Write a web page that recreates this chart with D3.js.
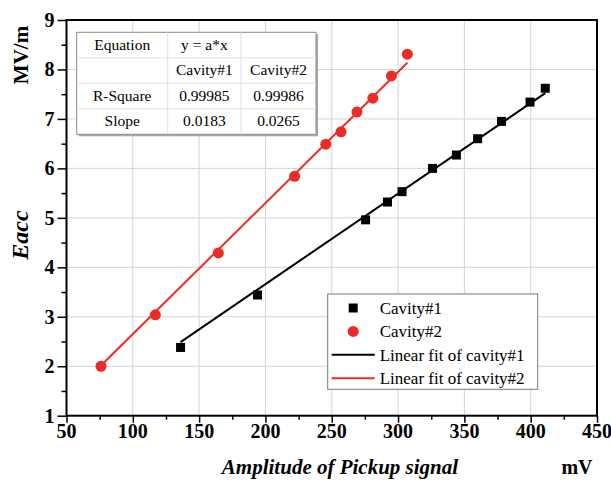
<!DOCTYPE html>
<html>
<head>
<meta charset="utf-8">
<script src="https://cdn.jsdelivr.net/npm/d3@7"></script>
<style>
  body { margin: 0; background: #fff; }
  svg text { font-family: "Liberation Serif", "Times New Roman", serif; }
</style>
</head>
<body>
<div id="chart"></div>
<script>
// cavity #1 (black squares)
const cav1X = [136, 194, 275.5, 292, 303, 326, 344, 360, 378, 399.5, 411];
const cav1Y = [2.38, 3.44, 4.96, 5.32, 5.53, 6.0, 6.27, 6.6, 6.95, 7.34, 7.62];
// cavity #2 (red circles)
const cav2X = [76, 117, 164.5, 222, 245.5, 257, 269, 281, 295, 307];
const cav2Y = [2.0, 3.04, 4.29, 5.84, 6.49, 6.74, 7.14, 7.42, 7.87, 8.31];
const slopes = [0.0183, 0.0265];
const rSquare = ['0.99985', '0.99986'];

const xTicks = [50, 100, 150, 200, 250, 300, 350, 400, 450];
const yTicks = [1, 2, 3, 4, 5, 6, 7, 8, 9];

const tableRows = [
    ['Equation', 'y = a*x', ''],
    ['', 'Cavity#1', 'Cavity#2'],
    ['R-Square', rSquare[0], rSquare[1]],
    ['Slope', String(slopes[0]), String(slopes[1])]
];
const legendItems = ['Cavity#1', 'Cavity#2', 'Linear fit of cavity#1', 'Linear fit of cavity#2'];

const width = 611, height = 485;
const margin = {top: 20, left: 66.5, right: 14, bottom: 69.3};
const red = '#ec2b27';
const serif = '"Liberation Serif", "Times New Roman", serif';

const svg = d3.select('#chart').append('svg')
    .attr('width', width)
    .attr('height', height);

svg.append('rect').attr('width', width).attr('height', height).attr('fill', '#fff');

const x = d3.scaleLinear().domain([50, 450]).range([margin.left, width - margin.right]);
const y = d3.scaleLinear().domain([1, 9]).range([height - margin.bottom, margin.top]);

// grid
svg.append('g').selectAll('line')
    .data(xTicks.slice(1, -1))
    .join('line')
    .attr('x1', d => x(d)).attr('x2', d => x(d))
    .attr('y1', y(1)).attr('y2', y(9))
    .attr('stroke', '#d4d4d4').attr('stroke-width', 1);
svg.append('g').selectAll('line')
    .data(yTicks.slice(1, -1))
    .join('line')
    .attr('y1', d => y(d)).attr('y2', d => y(d))
    .attr('x1', x(50)).attr('x2', x(450))
    .attr('stroke', '#d4d4d4').attr('stroke-width', 1);

// axes
const xAxis = svg.append('g')
    .attr('transform', `translate(0,${y(1)})`)
    .call(d3.axisBottom(x).tickValues(d3.range(50, 451, 25)).tickSize(5).tickFormat(''));
xAxis.selectAll('.tick line')
    .attr('stroke-width', 1.5)
    .attr('y2', d => d % 50 === 0 ? 7 : 4);
xAxis.select('.domain').remove();

const yAxis = svg.append('g')
    .attr('transform', `translate(${x(50)},0)`)
    .call(d3.axisLeft(y).tickValues(d3.range(1, 9.01, 0.5)).tickFormat(''));
yAxis.selectAll('.tick line')
    .attr('stroke-width', 1.5)
    .attr('x2', d => d % 1 === 0 ? -9 : -5);
yAxis.select('.domain').remove();

svg.append('g').selectAll('text')
    .data(xTicks)
    .join('text')
    .attr('x', d => x(d))
    .attr('y', y(1) + 22)
    .attr('text-anchor', 'middle')
    .style('font-family', serif)
    .style('font-size', '20px')
    .style('font-weight', 'bold')
    .text(d => d);

svg.append('g').selectAll('text')
    .data(yTicks)
    .join('text')
    .attr('x', x(50) - 12)
    .attr('y', d => y(d) + 7)
    .attr('text-anchor', 'end')
    .style('font-family', serif)
    .style('font-size', '20px')
    .style('font-weight', 'bold')
    .text(d => d);

// frame
svg.append('rect')
    .attr('x', x(50)).attr('y', y(9))
    .attr('width', x(450) - x(50)).attr('height', y(1) - y(9))
    .attr('fill', 'none').attr('stroke', '#000').attr('stroke-width', 2);

// axis titles
svg.append('text')
    .attr('transform', `translate(${28},${235}) rotate(-90)`)
    .attr('text-anchor', 'middle')
    .style('font-family', serif)
    .style('font-size', '24px')
    .style('font-weight', 'bold')
    .style('font-style', 'italic')
    .text('Eacc');
svg.append('text')
    .attr('transform', `translate(${28},${55}) rotate(-90)`)
    .attr('text-anchor', 'middle')
    .style('font-family', serif)
    .style('font-size', '21px')
    .style('font-weight', 'bold')
    .text('MV/m');
svg.append('text')
    .attr('x', 340).attr('y', 474)
    .attr('text-anchor', 'middle')
    .style('font-family', serif)
    .style('font-size', '21px')
    .style('font-weight', 'bold')
    .style('font-style', 'italic')
    .text('Amplitude of Pickup signal');
svg.append('text')
    .attr('x', 577).attr('y', 474)
    .attr('text-anchor', 'middle')
    .style('font-family', serif)
    .style('font-size', '20px')
    .style('font-weight', 'bold')
    .text('mV');

// fit lines
const line = d3.line().x(d => x(d[0])).y(d => y(d[1]));
[[cav1X, slopes[0], '#000'], [cav2X, slopes[1], red]].forEach(([xs, s, c]) => {
    const ext = d3.extent(xs);
    svg.append('path')
        .attr('d', line(ext.map(v => [v, v * s])))
        .attr('fill', 'none')
        .attr('stroke', c)
        .attr('stroke-width', 2);
});

// points
const cav1 = cav1X.map((v, i) => [v, cav1Y[i]]);
const cav2 = cav2X.map((v, i) => [v, cav2Y[i]]);
svg.append('g').selectAll('rect')
    .data(cav1)
    .join('rect')
    .attr('x', d => x(d[0]) - 4.5)
    .attr('y', d => y(d[1]) - 4.5)
    .attr('width', 9).attr('height', 9)
    .attr('fill', '#000');
svg.append('g').selectAll('circle')
    .data(cav2)
    .join('circle')
    .attr('cx', d => x(d[0]))
    .attr('cy', d => y(d[1]))
    .attr('r', 5.5)
    .attr('fill', red);

// stats table
const tbl = {x: 76.7, y: 32.3, cols: [91, 73.3, 75], rowH: 25.5};
const tblW = d3.sum(tbl.cols), tblH = tbl.rowH * tableRows.length;
svg.append('rect')
    .attr('x', tbl.x + 2).attr('y', tbl.y + 2)
    .attr('width', tblW).attr('height', tblH)
    .attr('fill', '#aaa');
svg.append('rect')
    .attr('x', tbl.x).attr('y', tbl.y)
    .attr('width', tblW).attr('height', tblH)
    .attr('fill', '#fff').attr('stroke', '#8a8a8a').attr('stroke-width', 1);
const colX = [tbl.x];
tbl.cols.forEach((w, i) => colX.push(colX[i] + w));
for (let i = 1; i < tbl.cols.length; i++) {
    svg.append('line')
        .attr('x1', colX[i]).attr('x2', colX[i])
        .attr('y1', tbl.y).attr('y2', tbl.y + tblH)
        .attr('stroke', '#e0e0e0');
}
for (let r = 1; r < tableRows.length; r++) {
    svg.append('line')
        .attr('x1', tbl.x).attr('x2', tbl.x + tblW)
        .attr('y1', tbl.y + r * tbl.rowH).attr('y2', tbl.y + r * tbl.rowH)
        .attr('stroke', '#e0e0e0');
}
tableRows.forEach((row, r) => {
    row.forEach((t, c) => {
        svg.append('text')
            .attr('x', (colX[c] + colX[c + 1]) / 2)
            .attr('y', tbl.y + r * tbl.rowH + 17.5)
            .attr('text-anchor', 'middle')
            .style('font-family', serif)
            .style('font-size', '15.5px')
            .text(t);
    });
});

// legend
const lg = {x: 327.7, y: 294, w: 210, h: 95.3};
svg.append('rect')
    .attr('x', lg.x).attr('y', lg.y)
    .attr('width', lg.w).attr('height', lg.h)
    .attr('fill', '#fff').attr('stroke', '#777').attr('stroke-width', 1);
const rowY = i => lg.y + 14 + i * 23.4;
legendItems.forEach((t, i) => {
    svg.append('text')
        .attr('x', lg.x + 52)
        .attr('y', rowY(i) + 6)
        .style('font-family', serif)
        .style('font-size', '17px')
        .text(t);
});
svg.append('rect')
    .attr('x', lg.x + 21).attr('y', rowY(0) - 4.5)
    .attr('width', 9).attr('height', 9).attr('fill', '#000');
svg.append('circle')
    .attr('cx', lg.x + 25.5).attr('cy', rowY(1)).attr('r', 5.5).attr('fill', red);
svg.append('line')
    .attr('x1', lg.x + 4).attr('x2', lg.x + 47)
    .attr('y1', rowY(2)).attr('y2', rowY(2))
    .attr('stroke', '#000').attr('stroke-width', 2);
svg.append('line')
    .attr('x1', lg.x + 4).attr('x2', lg.x + 47)
    .attr('y1', rowY(3)).attr('y2', rowY(3))
    .attr('stroke', red).attr('stroke-width', 2);
</script>
</body>
</html>
